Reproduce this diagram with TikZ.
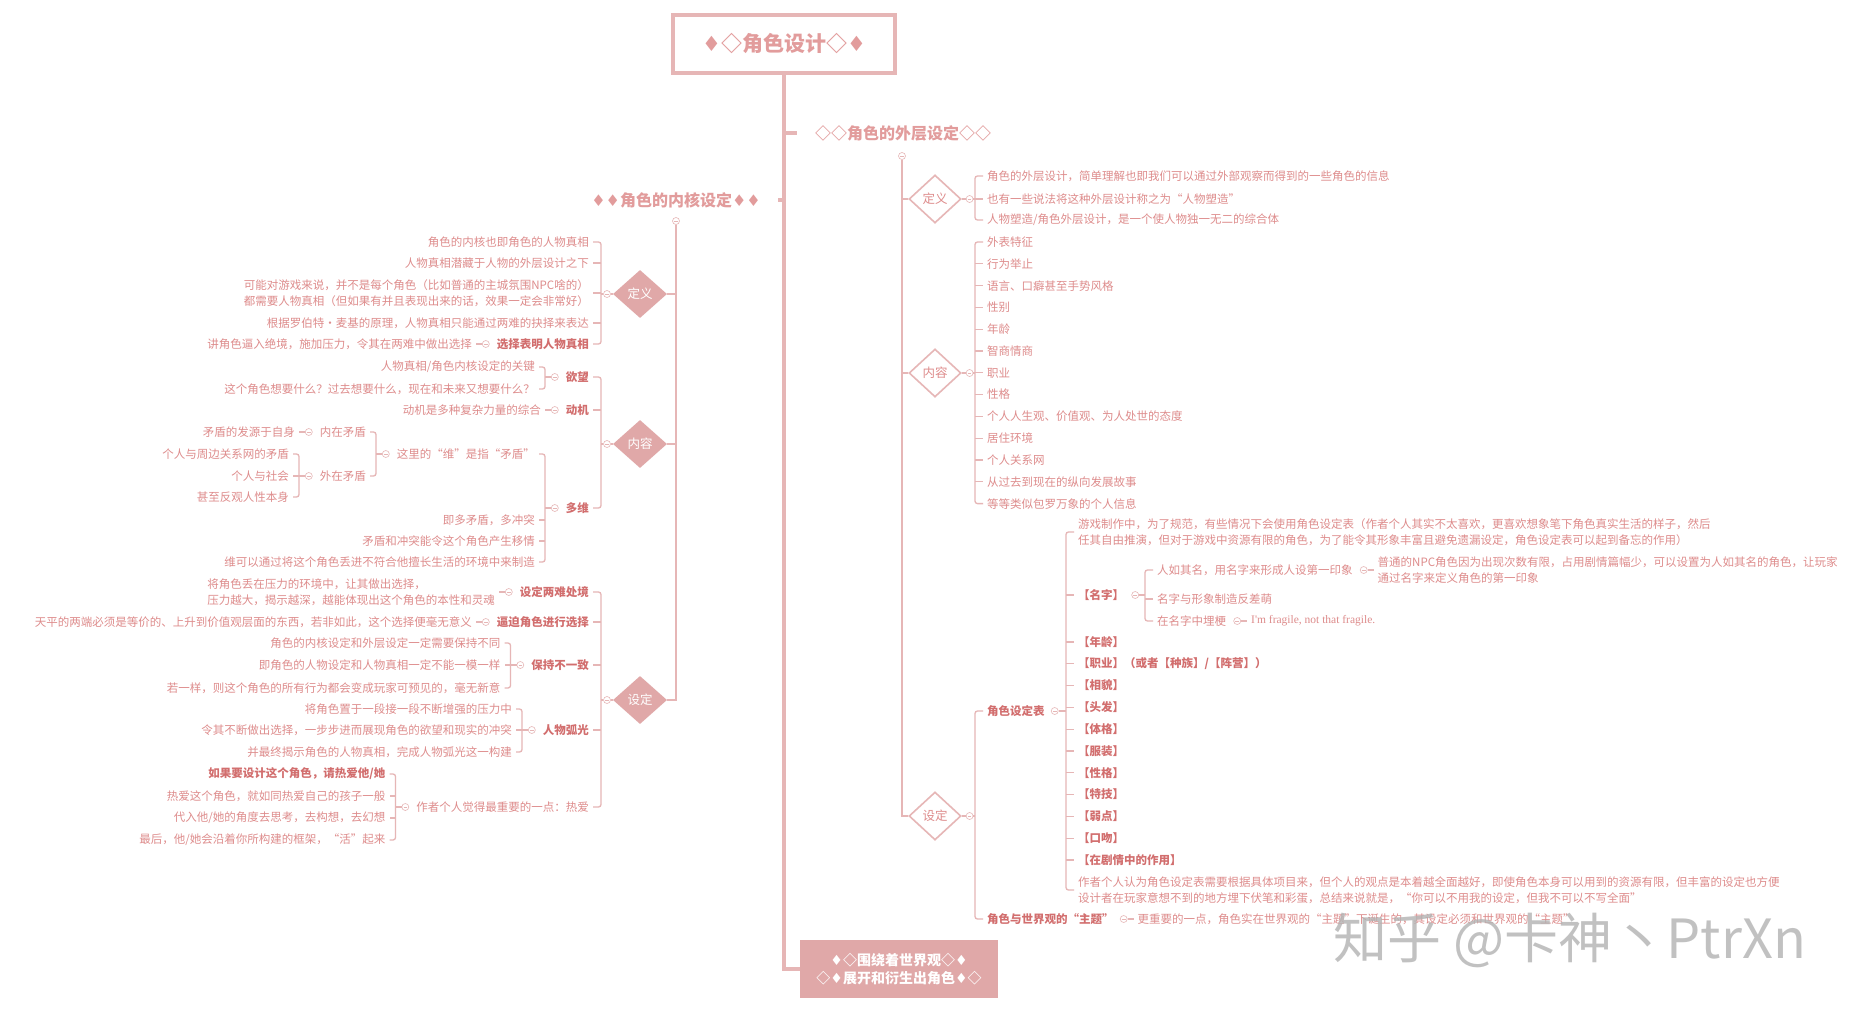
\documentclass[tikz,border=0pt]{standalone}
\usepackage{fontspec}
\setmainfont{Noto Sans CJK SC}
\newfontfamily\symfont{DejaVu Sans}
\newfontfamily\serifen{Liberation Serif}
\usetikzlibrary{shapes.geometric,positioning}
\definecolor{lnc}{RGB}{230,182,182}
\definecolor{txc}{RGB}{222,140,140}
\definecolor{btc}{RGB}{210,110,110}
\definecolor{headc}{RGB}{226,156,156}
\definecolor{fillc}{RGB}{224,168,168}
\definecolor{wmc}{RGB}{178,178,178}
\newcommand{\fs}{\fontsize{11.5}{15.5}\selectfont}
\newcommand{\dsolid}{{\symfont ♦}}
\newcommand{\dhollow}{{◇}}

\begin{document}
\begin{tikzpicture}[x=1pt,y=-1pt,
 ln/.style={draw=lnc,line width=1.3pt},
 trunk/.style={draw=lnc,line width=3.5pt},
 tx/.style={font=\fs,text=txc,inner ysep=2pt,inner xsep=4pt},
 lt/.style={tx,anchor=east,align=right},
 rt/.style={tx,anchor=west,align=left},
 lb/.style={lt,font=\fs\bfseries,text=btc},
 rb/.style={rt,font=\fs\bfseries,text=btc},
 head/.style={font=\fontsize{16}{16}\selectfont\bfseries,text=headc},
 fold/.style={circle,draw=lnc,fill=white,line width=0.6pt,minimum size=7pt,inner sep=0pt,
   path picture={\draw[lnc,line width=0.5pt] ([xshift=-1.8pt]path picture bounding box.center) -- ([xshift=1.8pt]path picture bounding box.center);}},
 fdia/.style={diamond,fill=fillc,text=white,minimum width=54,minimum height=48,inner sep=0pt,font=\fontsize{12.5}{13}\selectfont},
 odia/.style={diamond,draw=lnc,line width=1.6pt,fill=white,text=txc,minimum width=52,minimum height=48,inner sep=0pt,font=\fontsize{12.5}{13}\selectfont}]
\fill[white] (0,0) rectangle (1875,1012);
\useasboundingbox (0,0) rectangle (1875,1012);

% title, trunk, world box
\node[draw=lnc,line width=4pt,minimum width=222,minimum height=58,text=headc,font=\fontsize{21}{21}\selectfont\bfseries] (title) at (784,44) {\dsolid\dhollow{}角色设计\dhollow\dsolid};
\node[fill=fillc,minimum width=198,minimum height=58,text=white,align=center,font=\fontsize{14}{18}\selectfont\bfseries] (world) at (899,969) {\dsolid\dhollow{}围绕着世界观\dhollow\dsolid\\\dhollow\dsolid{}展开和衍生出角色\dsolid\dhollow};
\draw[trunk] (title.south) -- (title.south |- world) -- (world.west);
\node[head] (outer) at (903,133) {\dhollow\dhollow{}角色的外层设定\dhollow\dhollow};
\node[head] (inner) at (676,200) {\dsolid\dsolid{}角色的内核设定\dsolid\dsolid};
\draw[trunk] (title.south |- outer) -- ([xshift=-14pt]outer.west);
\draw[trunk] (title.south |- inner) -- ([xshift=14pt]inner.east);

% ---------------- outer layer (right) ----------------
\node[fold] (ofold) at (902,156) {};
\node[odia] (rdef) at (935,199) {定义};
\node[odia] (rcon) at (935,373) {内容};
\node[odia] (rset) at (935,816) {设定};
\draw[ln] (ofold) -- (ofold |- rset) -- (rset.west);
\draw[ln] (ofold |- rdef) -- (rdef.west);
\draw[ln] (ofold |- rcon) -- (rcon.west);
\coordinate (brx) at (975,0);

\node[fold,right=4pt of rdef] (frdef) {};
\draw[ln] (rdef.east) -- (frdef) -- (brx |- frdef);
\node[rt] (od1) at (983,176) {角色的外层设计，简单理解也即我们可以通过外部观察而得到的一些角色的信息};
\node[rt] (od2) at (983,199) {也有一些说法将这种外层设计称之为“人物塑造”};
\node[rt] (od3) at (983,220) {人物塑造/角色外层设计，是一个使人物独一无二的综合体};
\draw[ln,rounded corners=2.5pt] (od1.west) -- (brx |- od1) -- (brx |- od3) -- (od3.west);
\draw[ln] (brx |- od2) -- (od2.west);

\node[fold,right=4pt of rcon] (frcon) {};
\draw[ln] (rcon.east) -- (frcon) -- (brx |- frcon);
\foreach \t [count=\i] in {外表特征,行为举止,语言、口癖甚至手势风格,性别,年龄,智商情商,职业,性格,个人人生观、价值观、为人处世的态度,居住环境,个人关系网,从过去到现在的纵向发展故事,等等类似包罗万象的个人信息}
  \node[rt] (oc\i) at (983,{220.2+21.8*\i}) {\t};
\draw[ln,rounded corners=2.5pt] (oc1.west) -- (brx |- oc1) -- (brx |- oc13) -- (oc13.west);
\foreach \i in {2,...,12} \draw[ln] (brx |- oc\i) -- (oc\i.west);

\node[fold,right=4pt of rset] (frset) {};
\draw[ln] (rset.east) -- (frset) -- (brx |- frset);
\node[rb] (os1) at (983,711) {角色设定表};
\node[rb] (os2) at (983,919) {角色与世界观的“主题”};
\draw[ln,rounded corners=2.5pt] (os1.west) -- (brx |- os1) -- (brx |- os2) -- (os2.west);

% character sheet
\node[fold,right=2pt of os1] (fos1) {};
\coordinate (btx) at (1066,0);
\draw[ln] (fos1) -- (btx |- fos1);
\node[rt] (tb0) at (1074,532) {游戏制作中，为了规范，有些情况下会使用角色设定表（作者个人其实不太喜欢，更喜欢想象笔下角色真实生活的样子，然后\\任其自由推演，但对于游戏中资源有限的角色，为了能令其形象丰富且避免遗漏设定，角色设定表可以起到备忘的作用）};
\node[rb] (tb1) at (1074,595) {【名字】};
\foreach \t [count=\i] in {【年龄】,{【职业】（或者【种族】/【阵营】）},【相貌】,【头发】,【体格】,【服装】,【性格】,【特技】,【弱点】,【口吻】,【在剧情中的作用】}
  \node[rb] (tk\i) at (1074,{620.2+21.8*\i}) {\t};
\node[rt] (tb13) at (1074,890) {作者个人认为角色设定表需要根据具体项目来，但个人的观点是本着越全面越好，即使角色本身可以用到的资源有限，但丰富的设定也方便\\设计者在玩家意想不到的地方埋下伏笔和彩蛋，总结来说就是，“你可以不用我的设定，但我不可以不写全面”};
\draw[ln,rounded corners=2.5pt] (tb0.west) -- (btx |- tb0) -- (btx |- tb13) -- (tb13.west);
\draw[ln] (btx |- tb1) -- (tb1.west);
\foreach \i in {1,...,11} \draw[ln] (btx |- tk\i) -- (tk\i.west);

\node[fold,right=3pt of tb1] (ftb1) {};
\coordinate (bnx) at ([xshift=6pt]ftb1.east);
\draw[ln] (ftb1) -- (bnx);
\node[rt] (nm1) at ([xshift=8pt]bnx |- 0,570) {人如其名，用名字来形成人设第一印象};
\node[rt] (nm2) at ([xshift=8pt]bnx |- 0,599) {名字与形象制造反差萌};
\node[rt] (nm3) at ([xshift=8pt]bnx |- 0,621) {在名字中埋梗};
\draw[ln,rounded corners=2.5pt] (nm1.west) -- (bnx |- nm1) -- (bnx |- nm3) -- (nm3.west);
\draw[ln] (bnx |- nm2) -- (nm2.west);
\node[fold,right=3pt of nm1] (fnm1) {};
\node[rt,right=6pt of fnm1] (nm1a) {普通的NPC角色因为出现次数有限，占用剧情篇幅少，可以设置为人如其名的角色，让玩家\\通过名字来定义角色的第一印象};
\draw[ln] (fnm1) -- (nm1a.west);
\node[fold,right=3pt of nm3] (fnm3) {};
\node[rt,right=6pt of fnm3,font=\serifen\fs] (nm3a) {I'm fragile, not that fragile.};
\draw[ln] (fnm3) -- (nm3a.west);

\node[fold,right=2pt of os2] (fos2) {};
\node[rt,right=6pt of fos2] (os2a) {更重要的一点，角色实在世界观的“主题”下诞生的，其设定必须和世界观的“主题”};
\draw[ln] (fos2) -- (os2a.west);

% ---------------- inner core (left) ----------------
\node[fold] (ifold) at (676,221) {};
\node[fdia] (ldef) at (640,294) {定义};
\node[fdia] (lcon) at (640,444) {内容};
\node[fdia] (lset) at (640,700) {设定};
\draw[ln] (ifold) -- (ifold |- lset) -- (lset.east);
\draw[ln] (ldef.east) -- (ifold |- ldef);
\draw[ln] (lcon.east) -- (ifold |- lcon);
\coordinate (blx) at (601,0);

\node[fold,left=2pt of ldef] (fldef) {};
\draw[ln] (ldef.west) -- (fldef) -- (blx |- fldef);
\node[lt] (ld1) at (593,242) {角色的内核也即角色的人物真相};
\node[lt] (ld2) at (593,263) {人物真相潜藏于人物的外层设计之下};
\node[lt] (ld3) at (593,293) {可能对游戏来说，并不是每个角色（比如普通的主城氛围NPC啥的）\\都需要人物真相（但如果有并且表现出来的话，效果一定会非常好）};
\node[lt] (ld4) at (593,323) {根据罗伯特·麦基的原理，人物真相只能通过两难的抉择来表达};
\node[lb] (ld5) at (593,344) {选择表明人物真相};
\draw[ln,rounded corners=2.5pt] (ld1.east) -- (blx |- ld1) -- (blx |- ld5) -- (ld5.east);
\foreach \k in {ld2,ld3,ld4} \draw[ln] (blx |- \k) -- (\k.east);
\node[fold,left=3pt of ld5] (fld5) {};
\node[lt,left=6pt of fld5] (ld5a) {讲角色逼入绝境，施加压力，令其在两难中做出选择};
\draw[ln] (fld5) -- (ld5a.east);

\node[fold,left=2pt of lcon] (flcon) {};
\draw[ln] (lcon.west) -- (flcon) -- (blx |- flcon);
\node[lb] (lc1) at (593,377) {欲望};
\node[lb] (lc2) at (593,410) {动机};
\node[lb] (lc3) at (593,508) {多维};
\draw[ln,rounded corners=2.5pt] (lc1.east) -- (blx |- lc1) -- (blx |- lc3) -- (lc3.east);
\draw[ln] (blx |- lc2) -- (lc2.east);

\node[fold,left=3pt of lc1] (flc1) {};
\coordinate (bwx) at ([xshift=-6pt]flc1.west);
\draw[ln] (flc1) -- (bwx);
\node[lt] (lc1a) at ([xshift=-6pt]bwx |- 0,367) {人物真相/角色内核设定的关键};
\node[lt] (lc1b) at ([xshift=-6pt]bwx |- 0,389) {这个角色想要什么？过去想要什么，现在和未来又想要什么？};
\draw[ln,rounded corners=2.5pt] (lc1a.east) -- (bwx |- lc1a) -- (bwx |- lc1b) -- (lc1b.east);

\node[fold,left=3pt of lc2] (flc2) {};
\node[lt,left=6pt of flc2] (lc2a) {动机是多种复杂力量的综合};
\draw[ln] (flc2) -- (lc2a.east);

\node[fold,left=3pt of lc3] (flc3) {};
\coordinate (bdx) at ([xshift=-6pt]flc3.west);
\draw[ln] (flc3) -- (bdx);
\node[lt] (lc3a) at ([xshift=-6pt]bdx |- 0,454) {这里的“维”是指“矛盾”};
\node[lt] (lc3b) at ([xshift=-6pt]bdx |- 0,520) {即多矛盾，多冲突};
\node[lt] (lc3c) at ([xshift=-6pt]bdx |- 0,541) {矛盾和冲突能令这个角色产生移情};
\node[lt] (lc3d) at ([xshift=-6pt]bdx |- 0,562) {维可以通过将这个角色丢进不符合他擅长生活的环境中来制造};
\draw[ln,rounded corners=2.5pt] (lc3a.east) -- (bdx |- lc3a) -- (bdx |- lc3d) -- (lc3d.east);
\foreach \k in {lc3b,lc3c} \draw[ln] (bdx |- \k) -- (\k.east);

\node[fold,left=3pt of lc3a] (fwei) {};
\coordinate (bmx) at ([xshift=-6pt]fwei.west);
\draw[ln] (fwei) -- (bmx);
\node[lt] (nz) at ([xshift=-6pt]bmx |- 0,432) {内在矛盾};
\node[lt] (wz) at ([xshift=-6pt]bmx |- 0,476) {外在矛盾};
\draw[ln,rounded corners=2.5pt] (nz.east) -- (bmx |- nz) -- (bmx |- wz) -- (wz.east);
\node[fold,left=3pt of nz] (fnz) {};
\node[lt,left=6pt of fnz] (nz1) {矛盾的发源于自身};
\draw[ln] (fnz) -- (nz1.east);
\node[fold,left=3pt of wz] (fwz) {};
\coordinate (bwz) at ([xshift=-6pt]fwz.west);
\draw[ln] (fwz) -- (bwz);
\node[lt] (wz1) at ([xshift=-6pt]bwz |- 0,454) {个人与周边关系网的矛盾};
\node[lt] (wz2) at ([xshift=-6pt]bwz |- 0,476) {个人与社会};
\node[lt] (wz3) at ([xshift=-6pt]bwz |- 0,497) {甚至反观人性本身};
\draw[ln,rounded corners=2.5pt] (wz1.east) -- (bwz |- wz1) -- (bwz |- wz3) -- (wz3.east);
\draw[ln] (bwz |- wz2) -- (wz2.east);

\node[fold,left=2pt of lset] (flset) {};
\draw[ln] (lset.west) -- (flset) -- (blx |- flset);
\node[lb] (ls1) at (593,592) {设定两难处境};
\node[lb] (ls2) at (593,622) {逼迫角色进行选择};
\node[lb] (ls3) at (593,665) {保持不一致};
\node[lb] (ls4) at (593,730) {人物弧光};
\node[lt] (ls5) at (593,807) {作者个人觉得最重要的一点：热爱};
\draw[ln,rounded corners=2.5pt] (ls1.east) -- (blx |- ls1) -- (blx |- ls5) -- (ls5.east);
\foreach \k in {ls2,ls3,ls4} \draw[ln] (blx |- \k) -- (\k.east);

\node[fold,left=3pt of ls1] (fls1) {};
\node[lt,left=6pt of fls1,align=left] (ls1a) {将角色丢在压力的环境中，让其做出选择，\\压力越大，揭示越深，越能体现出这个角色的本性和灵魂};
\draw[ln] (fls1) -- (ls1a.east);
\node[fold,left=3pt of ls2] (fls2) {};
\node[lt,left=6pt of fls2] (ls2a) {天平的两端必须是等价的、上升到价值观层面的东西，若非如此，这个选择便毫无意义};
\draw[ln] (fls2) -- (ls2a.east);

\node[fold,left=3pt of ls3] (fls3) {};
\coordinate (bbx) at ([xshift=-6pt]fls3.west);
\draw[ln] (fls3) -- (bbx);
\node[lt] (ls3a) at ([xshift=-6pt]bbx |- 0,643) {角色的内核设定和外层设定一定需要保持不同};
\node[lt] (ls3b) at ([xshift=-6pt]bbx |- 0,665) {即角色的人物设定和人物真相一定不能一模一样};
\node[lt] (ls3c) at ([xshift=-6pt]bbx |- 0,688) {若一样，则这个角色的所有行为都会变成玩家可预见的，毫无新意};
\draw[ln,rounded corners=2.5pt] (ls3a.east) -- (bbx |- ls3a) -- (bbx |- ls3c) -- (ls3c.east);
\draw[ln] (bbx |- ls3b) -- (ls3b.east);

\node[fold,left=3pt of ls4] (fls4) {};
\coordinate (bhx) at ([xshift=-6pt]fls4.west);
\draw[ln] (fls4) -- (bhx);
\node[lt] (ls4a) at ([xshift=-6pt]bhx |- 0,709) {将角色置于一段接一段不断增强的压力中};
\node[lt] (ls4b) at ([xshift=-6pt]bhx |- 0,730) {令其不断做出选择，一步步进而展现角色的欲望和现实的冲突};
\node[lt] (ls4c) at ([xshift=-6pt]bhx |- 0,752) {并最终揭示角色的人物真相，完成人物弧光这一构建};
\draw[ln,rounded corners=2.5pt] (ls4a.east) -- (bhx |- ls4a) -- (bhx |- ls4c) -- (ls4c.east);
\draw[ln] (bhx |- ls4b) -- (ls4b.east);

\node[fold,left=3pt of ls5] (fls5) {};
\coordinate (bax) at ([xshift=-6pt]fls5.west);
\draw[ln] (fls5) -- (bax);
\node[lb] (ls5a) at ([xshift=-6pt]bax |- 0,774) {如果要设计这个角色，请热爱他/她};
\node[lt] (ls5b) at ([xshift=-6pt]bax |- 0,796) {热爱这个角色，就如同热爱自己的孩子一般};
\node[lt] (ls5c) at ([xshift=-6pt]bax |- 0,818) {代入他/她的角度去思考，去构想，去幻想};
\node[lt] (ls5d) at ([xshift=-6pt]bax |- 0,840) {最后，他/她会沿着你所构建的框架，“活”起来};
\draw[ln,rounded corners=2.5pt] (ls5a.east) -- (bax |- ls5a) -- (bax |- ls5d) -- (ls5d.east);
\foreach \k in {ls5b,ls5c} \draw[ln] (bax |- \k) -- (\k.east);

% watermark
\node[anchor=west,text=wmc,opacity=0.8,font=\fontsize{54}{54}\selectfont] (wm) at (1330,940) {知乎 @卡神丶PtrXn};
\end{tikzpicture}
\end{document}
